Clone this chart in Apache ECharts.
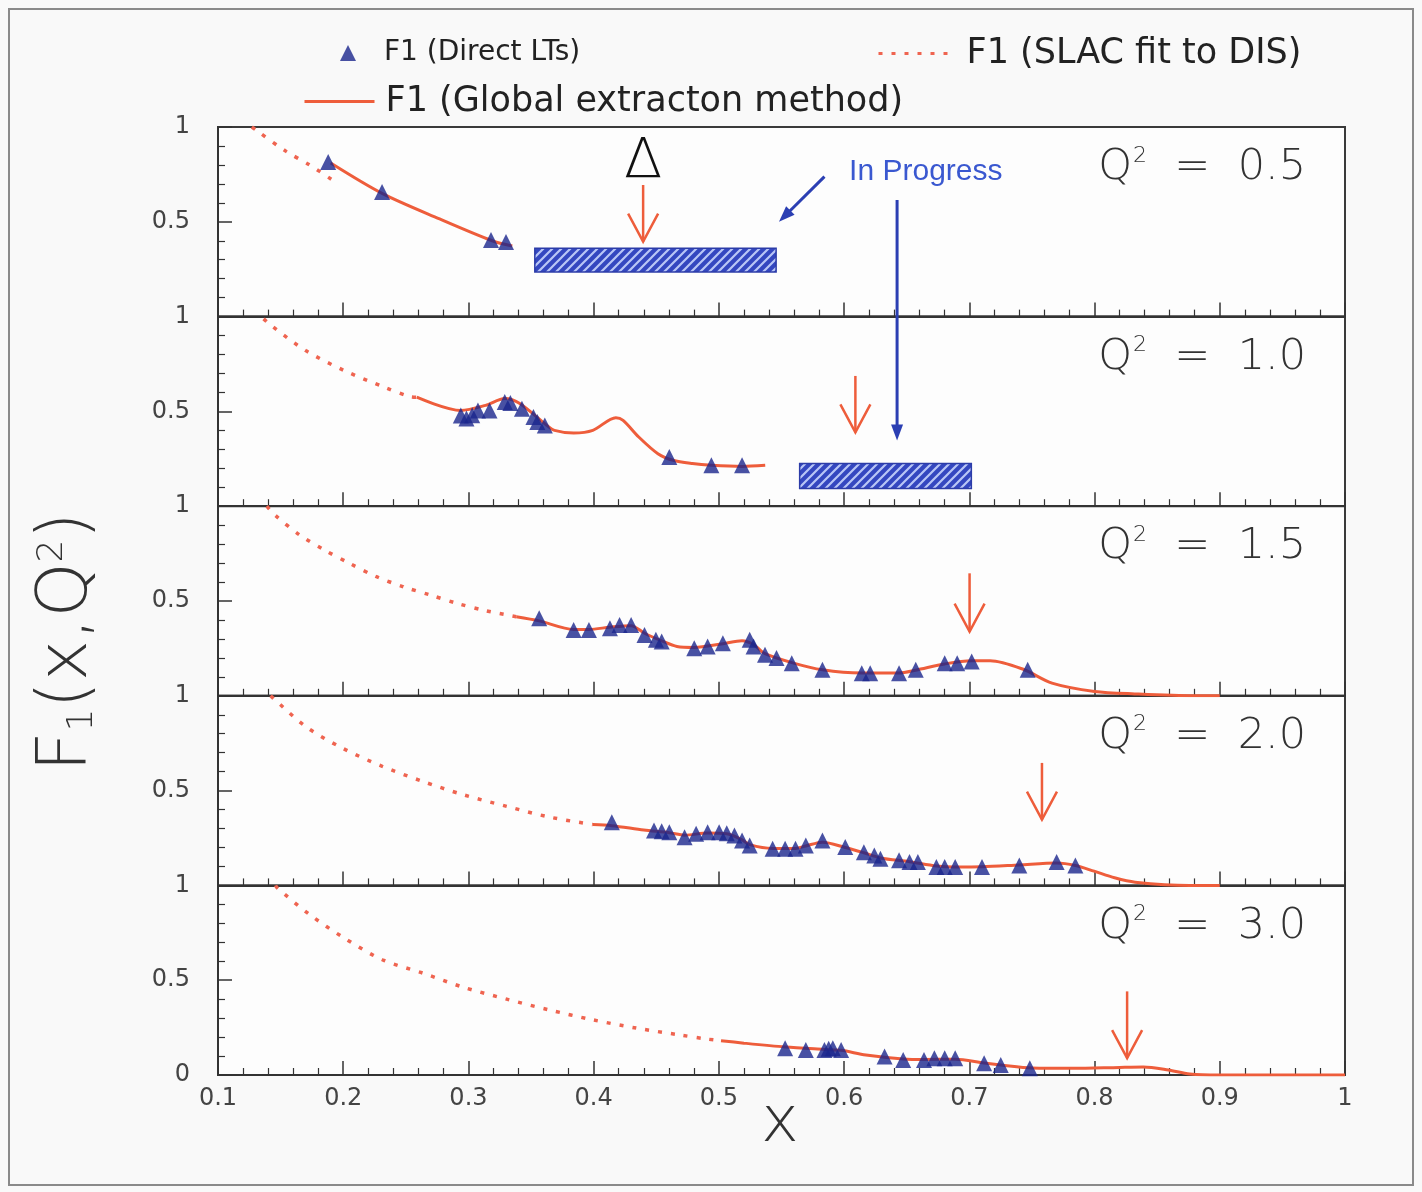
<!DOCTYPE html>
<html><head><meta charset="utf-8">
<script src="https://cdn.jsdelivr.net/npm/echarts@6/dist/echarts.min.js"></script>
<style>html,body{margin:0;padding:0;background:#f9f9f9}#c{width:1422px;height:1192px}</style>
</head><body><div id="c"></div>
<script>
// ---------------- data ----------------
const q2Labels = ['0.5', '1.0', '1.5', '2.0', '3.0'];
const xTicks = [0.1, 0.2, 0.3, 0.4, 0.5, 0.6, 0.7, 0.8, 0.9, 1.0];
const yTicks = [0, 0.5, 1];

const direct_q05 = [[0.188,0.815],[0.231,0.657],[0.318,0.404],[0.330,0.393]];
const global_q05 = [[0.190,0.810],[0.231,0.650],[0.277,0.515],[0.319,0.400],[0.335,0.372]];
const slac_q05 = [[0.127,1.0],[0.1303,0.984],[0.1547,0.870],[0.1731,0.80],[0.1915,0.72]];

const direct_q10 = [[0.2939,0.479],[0.2984,0.462],[0.3030,0.480],[0.3076,0.505],[0.3168,0.505],[0.329,0.549],[0.3335,0.544],[0.3427,0.514],[0.3519,0.470],[0.355,0.444],[0.361,0.426],[0.4604,0.26],[0.494,0.216],[0.5185,0.216]];
const global_q10 = [[0.2587,0.575],[0.2939,0.505],[0.3137,0.532],[0.329,0.568],[0.341,0.542],[0.3626,0.426],[0.3687,0.40],[0.384,0.386],[0.3993,0.40],[0.4177,0.467],[0.4235,0.453],[0.436,0.365],[0.4513,0.277],[0.4634,0.242],[0.4788,0.225],[0.494,0.216],[0.5185,0.21],[0.537,0.216]];
const slac_q10 = [[0.1364,0.988],[0.1425,0.953],[0.170,0.821],[0.2006,0.716],[0.2327,0.628],[0.2526,0.579],[0.2587,0.575]];

const direct_q15 = [[0.3565,0.409],[0.384,0.347],[0.3962,0.347],[0.413,0.356],[0.4207,0.374],[0.4299,0.374],[0.4406,0.321],[0.4497,0.295],[0.4543,0.286],[0.4803,0.251],[0.491,0.26],[0.5032,0.277],[0.5246,0.295],[0.5277,0.26],[0.5368,0.216],[0.546,0.199],[0.5582,0.172],[0.5827,0.137],[0.6141,0.119],[0.6208,0.119],[0.6439,0.119],[0.6572,0.137],[0.6803,0.172],[0.6903,0.172],[0.7019,0.181],[0.7466,0.137]];
const global_q15 = [[0.3382,0.417],[0.3565,0.395],[0.384,0.35],[0.3962,0.35],[0.413,0.362],[0.4299,0.37],[0.4406,0.33],[0.4543,0.29],[0.4665,0.26],[0.4803,0.255],[0.5032,0.275],[0.5185,0.29],[0.5277,0.27],[0.5368,0.222],[0.5582,0.175],[0.5827,0.137],[0.6141,0.12],[0.6439,0.12],[0.6572,0.135],[0.6803,0.168],[0.7019,0.185],[0.7166,0.185],[0.743,0.14],[0.766,0.067],[0.80,0.023],[0.832,0.01],[0.88,0.0],[0.90,0.0]];
const slac_q15 = [[0.139,1.0],[0.1455,0.953],[0.1655,0.847],[0.1853,0.768],[0.2052,0.698],[0.2266,0.628],[0.248,0.575],[0.2693,0.532],[0.2907,0.488],[0.3137,0.449],[0.3382,0.417]];

const direct_q20 = [[0.4145,0.333],[0.4482,0.289],[0.4543,0.285],[0.4604,0.28],[0.4726,0.254],[0.4818,0.272],[0.491,0.28],[0.5002,0.28],[0.5063,0.275],[0.5124,0.263],[0.5185,0.237],[0.5246,0.21],[0.5429,0.193],[0.5529,0.193],[0.5612,0.193],[0.5694,0.21],[0.5827,0.237],[0.6009,0.202],[0.6158,0.175],[0.6241,0.158],[0.629,0.14],[0.6439,0.132],[0.6522,0.123],[0.6589,0.123],[0.6737,0.097],[0.6803,0.097],[0.6887,0.097],[0.7101,0.097],[0.7399,0.105],[0.7697,0.123],[0.7847,0.105]];
const global_q20 = [[0.3993,0.321],[0.4145,0.315],[0.44,0.292],[0.4604,0.278],[0.4726,0.265],[0.491,0.276],[0.5063,0.272],[0.5185,0.24],[0.5246,0.215],[0.5429,0.195],[0.5612,0.195],[0.5694,0.208],[0.5827,0.228],[0.6009,0.2],[0.6158,0.172],[0.629,0.145],[0.6522,0.125],[0.6737,0.102],[0.6887,0.097],[0.7101,0.098],[0.7399,0.108],[0.7697,0.118],[0.7847,0.105],[0.7996,0.075],[0.816,0.04],[0.8324,0.017],[0.8757,0.0],[0.9,0.0]];
const slac_q20 = [[0.142,1.0],[0.144,0.988],[0.170,0.838],[0.199,0.725],[0.2312,0.628],[0.2633,0.549],[0.2954,0.479],[0.3305,0.417],[0.3641,0.361],[0.3993,0.321]];

const direct_q30 = [[0.5529,0.141],[0.5694,0.132],[0.5843,0.132],[0.5877,0.138],[0.591,0.141],[0.5976,0.132],[0.6323,0.097],[0.6472,0.079],[0.6638,0.079],[0.6721,0.088],[0.6803,0.088],[0.6887,0.088],[0.7118,0.062],[0.7251,0.053],[0.7483,0.035]];
const global_q30 = [[0.5017,0.181],[0.52,0.168],[0.5529,0.148],[0.5843,0.135],[0.5976,0.13],[0.6174,0.106],[0.6472,0.085],[0.6638,0.082],[0.6887,0.083],[0.7118,0.063],[0.7251,0.053],[0.75,0.037],[0.783,0.035],[0.82,0.04],[0.839,0.042],[0.859,0.026],[0.876,0.005],[0.9,0.0],[1.0,0.0]];
const slac_q30 = [[0.146,1.0],[0.1471,0.988],[0.173,0.847],[0.2006,0.723],[0.2312,0.608],[0.2633,0.538],[0.2954,0.464],[0.3305,0.40],[0.3641,0.344],[0.3993,0.291],[0.4344,0.247],[0.468,0.212],[0.491,0.189],[0.5017,0.181]];

// annotations (panel index, data coords)
const redArrows = [[0,0.4395,0.694,0.395],[1,0.609,0.687,0.389],[2,0.7002,0.646,0.338],[3,0.758,0.646,0.347],[4,0.826,0.441,0.089]];
const hatchBoxes = [[0,0.353,0.361,0.5457,0.235],[1,0.5645,0.225,0.7016,0.093]];
const blueArrows = [[[0,0.5843,0.738],[0,0.548,0.50]],[[0,0.6423,0.615],[1,0.6423,0.347]]];
const deltaLabel = [0, 0.4395, 0.815];
const progressLabel = [0, 0.604, 0.764];
const q2LabelPos = [0.8029, 0.784];

const directSets = [direct_q05, direct_q10, direct_q15, direct_q20, direct_q30];
const globalSets = [global_q05, global_q10, global_q15, global_q20, global_q30];
const slacSets = [slac_q05, slac_q10, slac_q15, slac_q20, slac_q30];

// ---------------- style ----------------
const NAME_DIR = 'F1 (Direct LTs)', NAME_SLAC = 'F1 (SLAC fit to DIS)', NAME_GLOB = 'F1 (Global extracton method)';
const RED = '#ee5d3b', BLUE = '#1a268c', ABLUE = '#2b3fb3';
const FONT = 'DejaVu Sans';

const hc = document.createElement('canvas'); hc.width = 9; hc.height = 9;
const g = hc.getContext('2d');
g.fillStyle = '#3447c0'; g.fillRect(0,0,9,9);
g.strokeStyle = '#b9c6f6'; g.lineWidth = 2.2;
g.beginPath(); g.moveTo(0,9); g.lineTo(9,0); g.moveTo(-2,2); g.lineTo(2,-2); g.moveTo(7,11); g.lineTo(11,7); g.stroke();
const hatch = {image: hc, repeat: 'repeat'};

const TOP = 127, H = 189.6, LEFT = 218, W = 1127;
const grids = [], xAxes = [], yAxes = [], series = [];
for (let i = 0; i < 5; i++) {
  grids.push({left: LEFT, width: W, top: TOP + i*H, height: H, show: true, backgroundColor: '#fdfdfd', borderColor: '#3a3a3a', borderWidth: 2});
  xAxes.push({type: 'value', gridIndex: i, min: xTicks[0], max: xTicks[xTicks.length-1], interval: 0.1,
    axisLine: {show: true, onZero: false, lineStyle: {color: '#333', width: 2}},
    axisTick: {show: true, inside: true, length: 14, lineStyle: {color: '#333', width: 1.5}},
    minorTick: {show: true, splitNumber: 5, length: 7, lineStyle: {color: '#333', width: 1.2}},
    splitLine: {show: false},
    axisLabel: {show: i === 4, margin: 12, fontFamily: FONT, fontSize: 24, color: '#444',
      formatter: v => String(parseFloat(v.toFixed(2)))}});
  yAxes.push({type: 'value', gridIndex: i, min: yTicks[0], max: yTicks[2], interval: 0.5,
    axisLine: {show: true, lineStyle: {color: '#333', width: 2}},
    axisTick: {show: true, inside: true, length: 14, lineStyle: {color: '#333', width: 1.5}},
    minorTick: {show: true, splitNumber: 5, length: 7, lineStyle: {color: '#333', width: 1.2}},
    splitLine: {show: false},
    axisLabel: {margin: 28, fontFamily: FONT, fontSize: 24, color: '#444',
      formatter: v => (v === 0 && i < 4) ? '' : String(v)}});
  const box = hatchBoxes.find(b => b[0] === i);
  series.push({name: NAME_SLAC, type: 'line', xAxisIndex: i, yAxisIndex: i, data: slacSets[i], smooth: 0.3,
    showSymbol: false, symbol: 'none', lineStyle: {color: '#ef6450', width: 3.5, type: [4, 9], cap: 'butt'}, itemStyle: {color: '#ef6450'}, z: 2});
  series.push({name: NAME_GLOB, type: 'line', xAxisIndex: i, yAxisIndex: i, data: globalSets[i], smooth: 0.3,
    showSymbol: false, symbol: 'none', lineStyle: {color: RED, width: 3}, itemStyle: {color: RED}, z: 3,
    markArea: box ? {silent: true, itemStyle: {color: hatch, opacity: 1, borderColor: '#2c3ca8', borderWidth: 1.5},
      data: [[{coord: [box[1], box[2]]}, {coord: [box[3], box[4]]}]]} : undefined});
  series.push({name: NAME_DIR, type: 'scatter', xAxisIndex: i, yAxisIndex: i, data: directSets[i],
    symbol: 'triangle', symbolSize: 16, itemStyle: {color: BLUE}, z: 5});
}

const chart = echarts.init(document.getElementById('c'), null, {renderer: 'canvas'});
chart.setOption({
  animation: false,
  backgroundColor: '#f9f9f9',
  grid: grids, xAxis: xAxes, yAxis: yAxes, series: series,
  legend: [
    {data: [NAME_DIR], left: 335, top: 34, itemWidth: 16, itemHeight: 16, icon: 'triangle', selectedMode: false,
      textStyle: {fontFamily: FONT, fontSize: 28, color: '#222', padding: [0,0,0,23]}},
    {data: [NAME_SLAC], left: 872, top: 31, itemWidth: 70, itemHeight: 14, selectedMode: false,
      itemStyle: {opacity: 0}, lineStyle: {width: 3},
      textStyle: {fontFamily: FONT, fontSize: 35, color: '#222', padding: [0,0,0,13]}},
    {data: [NAME_GLOB], left: 298, top: 79, itemWidth: 70, itemHeight: 14, selectedMode: false,
      itemStyle: {opacity: 0}, lineStyle: {width: 3},
      textStyle: {fontFamily: FONT, fontSize: 35, color: '#222', padding: [0,0,0,6]}}
  ]
});

// ---------------- annotations via axis conversion ----------------
const px = (p, x, y) => chart.convertToPixel({gridIndex: p}, [x, y]);
const graphics = [];
graphics.push({type: 'rect', shape: {x: 9, y: 9, width: 1404, height: 1176}, style: {fill: null, stroke: '#8a8a8a', lineWidth: 2}, silent: true, z: -1});
redArrows.forEach(a => {
  const p1 = px(a[0], a[1], a[2]), p2 = px(a[0], a[1], a[3]);
  graphics.push({type: 'line', shape: {x1: p1[0], y1: p1[1], x2: p2[0], y2: p2[1]}, style: {stroke: RED, lineWidth: 2.5}, z: 10});
  graphics.push({type: 'polyline', shape: {points: [[p2[0]-15, p2[1]-28], [p2[0], p2[1]], [p2[0]+15, p2[1]-28]]}, style: {stroke: RED, lineWidth: 2.5, fill: null}, z: 10});
});
blueArrows.forEach(a => {
  const s = px(a[0][0], a[0][1], a[0][2]), t = px(a[1][0], a[1][1], a[1][2]);
  const dx = t[0]-s[0], dy = t[1]-s[1], L = Math.hypot(dx, dy), ux = dx/L, uy = dy/L, nx = -uy, ny = ux;
  const hl = 16, hw = 6;
  graphics.push({type: 'line', shape: {x1: s[0], y1: s[1], x2: t[0]-ux*hl*0.8, y2: t[1]-uy*hl*0.8}, style: {stroke: ABLUE, lineWidth: 3}, z: 10});
  graphics.push({type: 'polygon', shape: {points: [[t[0], t[1]], [t[0]-ux*hl+nx*hw, t[1]-uy*hl+ny*hw], [t[0]-ux*hl-nx*hw, t[1]-uy*hl-ny*hw]]}, style: {fill: ABLUE}, z: 10});
});
const dp = px(deltaLabel[0], deltaLabel[1], deltaLabel[2]);
graphics.push({type: 'text', x: dp[0], y: dp[1], style: {text: 'Δ', fontFamily: FONT, fontWeight: 200, fontSize: 56, fill: '#111', align: 'center', verticalAlign: 'middle'}, z: 10});
const pp = px(progressLabel[0], progressLabel[1], progressLabel[2]);
graphics.push({type: 'text', x: pp[0], y: pp[1], style: {text: 'In Progress', fontFamily: 'Liberation Sans', fontSize: 30, fill: '#3a58d0', align: 'left', verticalAlign: 'middle'}, z: 10});
q2Labels.forEach((lab, i) => {
  const p = px(i, q2LabelPos[0], q2LabelPos[1]);
  graphics.push({type: 'text', x: p[0], y: p[1], z: 10, style: {
    text: '{q|Q}{s|2}{q|  =  ' + lab + '}', align: 'left', verticalAlign: 'middle',
    rich: {q: {fontFamily: FONT, fontWeight: 200, fontSize: 43, fill: '#333', lineHeight: 46},
           s: {fontFamily: FONT, fontWeight: 200, fontSize: 22, fill: '#333', verticalAlign: 'top', lineHeight: 46, padding: [0,0,14,1]}}}});
});
// axis titles
graphics.push({type: 'text', x: 68, y: 642, rotation: Math.PI/2, z: 10, style: {
  text: '{a|F}{b|1}{a|(x,Q}{c|2}{a|)}', align: 'center', verticalAlign: 'middle',
  rich: {a: {fontFamily: FONT, fontWeight: 200, fontSize: 70, fill: '#333', lineHeight: 80},
         b: {fontFamily: FONT, fontWeight: 200, fontSize: 36, fill: '#333', lineHeight: 80, padding: [30,0,0,0]},
         c: {fontFamily: FONT, fontWeight: 200, fontSize: 36, fill: '#333', lineHeight: 80, padding: [0,0,30,0]}}}});
graphics.push({type: 'text', x: 780, y: 1124, z: 10, style: {text: 'x', fontFamily: FONT, fontWeight: 200, fontSize: 64, fill: '#333', align: 'center', verticalAlign: 'middle'}});
chart.setOption({graphic: graphics});
</script></body></html>
